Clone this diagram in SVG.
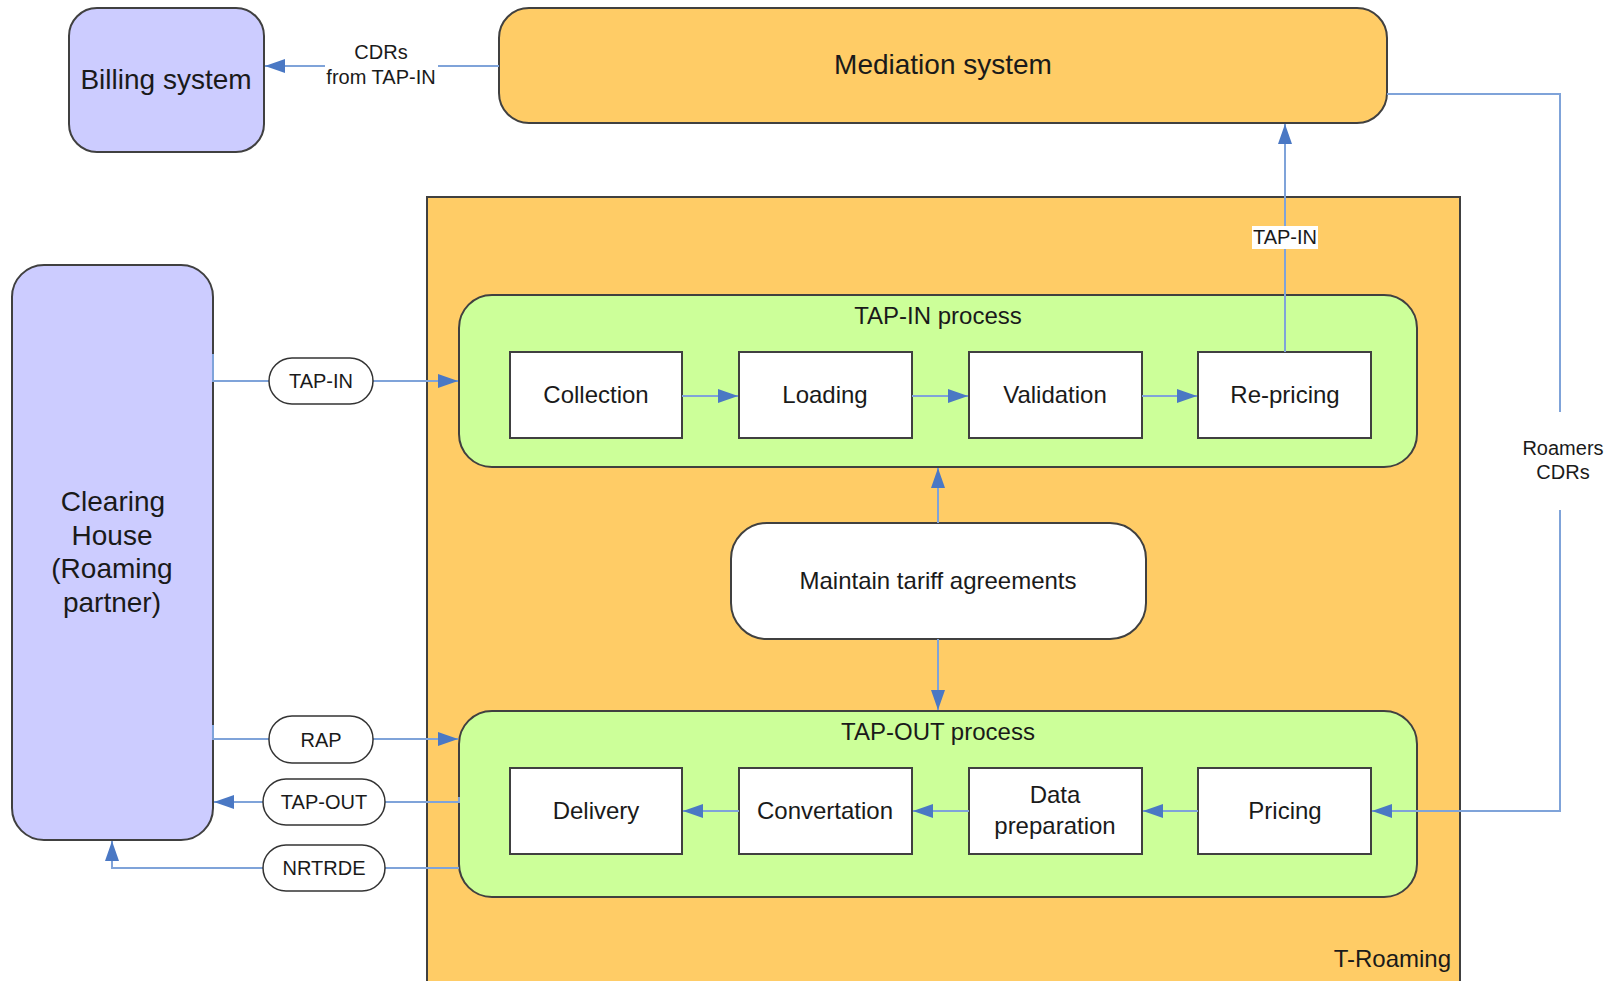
<svg xmlns="http://www.w3.org/2000/svg" width="1616" height="981" viewBox="0 0 1616 981">
<defs>
<marker id="arr" viewBox="0 0 20 14" markerWidth="20" markerHeight="14" refX="20" refY="7" orient="auto" markerUnits="userSpaceOnUse">
<path d="M0,0 L20,7 L0,14 z" fill="#4A78C4"/>
</marker>
<style>
.t{font-family:"Liberation Sans",Arial,sans-serif;fill:#1a1a1a;text-anchor:middle}
.big{font-size:28px}
.mid{font-size:24px}
.sm{font-size:20px}
.sys{fill:#CCCCFF;stroke:#404040;stroke-width:2}
.org{fill:#FFCC66;stroke:#404040;stroke-width:2}
.grn{fill:#CCFF99;stroke:#404040;stroke-width:2}
.box{fill:#FFFFFF;stroke:#404040;stroke-width:2}
.pill{fill:#FFFFFF;stroke:#333333;stroke-width:1.5}
.ln{fill:none;stroke:#7FA3D9;stroke-width:2}
.la{fill:none;stroke:#7FA3D9;stroke-width:2;marker-end:url(#arr)}
</style>
</defs>

<g id="billing">
<rect class="sys" x="69" y="8" width="195" height="144" rx="28"/>
<text class="t big" x="166" y="89">Billing system</text>
</g>

<g id="mediation">
<rect class="org" x="499" y="8" width="888" height="115" rx="30"/>
<text class="t big" x="943" y="74">Mediation system</text>
</g>

<g id="troaming">
<rect class="org" x="427" y="197" width="1033" height="800"/>
<text class="t mid" x="1451" y="967" style="text-anchor:end">T-Roaming</text>
</g>

<g id="clearing">
<rect class="sys" x="12" y="265" width="201" height="575" rx="32"/>
<text class="t big" x="113" y="511">Clearing</text>
<text class="t big" x="112" y="545">House</text>
<text class="t big" x="112" y="578">(Roaming</text>
<text class="t big" x="112" y="612">partner)</text>
</g>

<g id="tapin-process">
<rect class="grn" x="459" y="295" width="958" height="172" rx="33"/>
<text class="t mid" x="938" y="324">TAP-IN process</text>
</g>

<g id="tapout-process">
<rect class="grn" x="459" y="711" width="958" height="186" rx="33"/>
<text class="t mid" x="938" y="740">TAP-OUT process</text>
</g>

<g id="collection"><rect class="box" x="510" y="352" width="172" height="86"/><text class="t mid" x="596" y="403">Collection</text></g>
<g id="loading"><rect class="box" x="739" y="352" width="173" height="86"/><text class="t mid" x="825" y="403">Loading</text></g>
<g id="validation"><rect class="box" x="969" y="352" width="173" height="86"/><text class="t mid" x="1055" y="403">Validation</text></g>
<g id="repricing"><rect class="box" x="1198" y="352" width="173" height="86"/><text class="t mid" x="1285" y="403">Re-pricing</text></g>

<g id="delivery"><rect class="box" x="510" y="768" width="172" height="86"/><text class="t mid" x="596" y="819">Delivery</text></g>
<g id="convertation"><rect class="box" x="739" y="768" width="173" height="86"/><text class="t mid" x="825" y="819">Convertation</text></g>
<g id="dataprep"><rect class="box" x="969" y="768" width="173" height="86"/><text class="t mid" x="1055" y="803">Data</text><text class="t mid" x="1055" y="834">preparation</text></g>
<g id="pricing"><rect class="box" x="1198" y="768" width="173" height="86"/><text class="t mid" x="1285" y="819">Pricing</text></g>

<g id="maintain">
<rect class="box" x="731" y="523" width="415" height="116" rx="36"/>
<text class="t mid" x="938" y="589">Maintain tariff agreements</text>
</g>

<g id="connectors">
<!-- Mediation to Billing -->
<line class="ln" x1="499" y1="66" x2="438" y2="66"/>
<line class="la" x1="325" y1="66" x2="265" y2="66"/>
<text class="t sm" x="381" y="59">CDRs</text>
<text class="t sm" x="381" y="84">from TAP-IN</text>

<!-- Re-pricing to Mediation -->
<line class="la" x1="1285" y1="352" x2="1285" y2="124"/>
<rect x="1252" y="226" width="66" height="23" fill="#FFFFFF"/>
<text class="t sm" x="1285" y="244">TAP-IN</text>

<!-- Mediation to Pricing (Roamers CDRs) -->
<polyline class="ln" points="1387,94 1560,94 1560,412"/>
<polyline class="la" points="1560,510 1560,811 1372,811"/>
<text class="t sm" x="1563" y="455">Roamers</text>
<text class="t sm" x="1563" y="479">CDRs</text>

<!-- TAP-IN process chain -->
<line class="la" x1="682" y1="396" x2="738" y2="396"/>
<line class="la" x1="912" y1="396" x2="968" y2="396"/>
<line class="la" x1="1142" y1="396" x2="1197" y2="396"/>

<!-- TAP-OUT process chain -->
<line class="la" x1="1198" y1="811" x2="1143" y2="811"/>
<line class="la" x1="969" y1="811" x2="913" y2="811"/>
<line class="la" x1="739" y1="811" x2="683" y2="811"/>

<!-- Maintain tariff -->
<line class="la" x1="938" y1="523" x2="938" y2="468"/>
<line class="la" x1="938" y1="639" x2="938" y2="710"/>

<!-- Clearing House links -->
<polyline class="ln" points="213,354 213,381 269,381"/>
<line class="la" x1="373" y1="381" x2="458" y2="381"/>
<rect class="pill" x="269" y="358" width="104" height="46" rx="23"/>
<text class="t sm" x="321" y="388">TAP-IN</text>

<polyline class="ln" points="213,725 213,739 269,739"/>
<line class="la" x1="373" y1="739" x2="458" y2="739"/>
<rect class="pill" x="269" y="716" width="104" height="47" rx="23"/>
<text class="t sm" x="321" y="747">RAP</text>

<polyline class="ln" points="459,797 459,802 385,802"/>
<line class="la" x1="263" y1="802" x2="214" y2="802"/>
<rect class="pill" x="263" y="779" width="122" height="46" rx="23"/>
<text class="t sm" x="324" y="809">TAP-OUT</text>

<line class="ln" x1="459" y1="868" x2="385" y2="868"/>
<polyline class="la" points="263,868 112,868 112,841"/>
<rect class="pill" x="263" y="845" width="122" height="46" rx="23"/>
<text class="t sm" x="324" y="875">NRTRDE</text>
</g>
</svg>
